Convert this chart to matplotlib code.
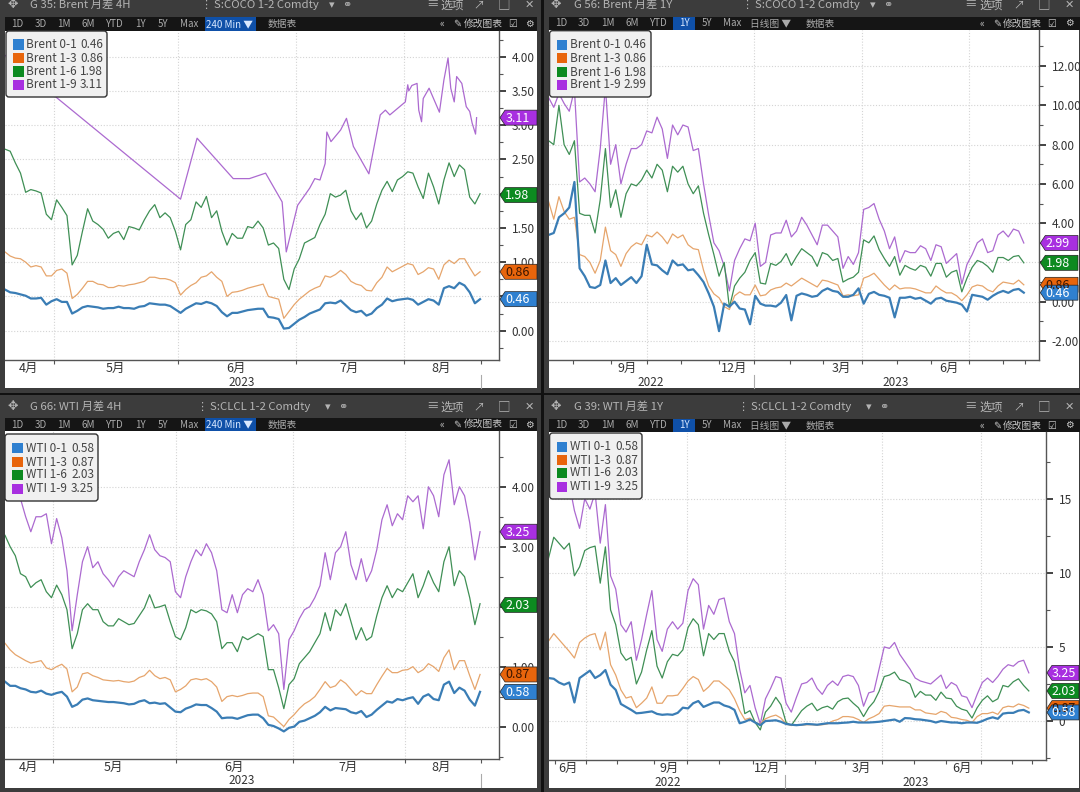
import numpy as np
import matplotlib
matplotlib.use("Agg")
import matplotlib.pyplot as plt
from matplotlib.patches import Rectangle, Polygon, FancyBboxPatch
from matplotlib.ticker import FixedLocator

plt.rcParams['font.family'] = ['Noto Sans CJK SC', 'DejaVu Sans']

# Brent 4H
b4_01 = [.60,.56,.55,.53,.51,.47,.47,.48,.38,.43,.46,.42,.42,.25,.29,.34,.36,.35,.34,.32,.33,.33,.35,.33,.33,.32,.35,.36,.40,.39,.38,.38,.36,.31,.26,.32,.36,.40,.39,.42,.40,.36,.27,.21,.26,.26,.28,.30,.31,.32,.32,.20,.19,.17,.03,.04,.10,.16,.20,.25,.28,.31,.40,.41,.40,.44,.37,.30,.27,.29,.22,.25,.33,.38,.47,.43,.45,.46,.47,.45,.38,.42,.46,.44,.38,.62,.65,.62,.70,.66,.56,.40,.46]
b4_13 = [1.15,1.09,1.06,1.05,1.0,.93,.95,.93,.80,.80,.88,.90,.84,.47,.53,.62,.72,.72,.68,.67,.63,.63,.66,.65,.67,.68,.70,.72,.78,.78,.76,.76,.74,.70,.52,.60,.66,.70,.78,.80,.86,.78,.72,.50,.56,.57,.59,.62,.64,.66,.68,.50,.48,.46,.18,.28,.38,.46,.52,.58,.62,.65,.80,.78,.82,.88,.82,.72,.68,.66,.59,.58,.70,.78,.93,.86,.90,.94,.98,.96,.82,.86,.92,.90,.75,.96,1.03,.98,1.05,1.05,.92,.80,.86]
b4_16 = [2.65,2.62,2.45,2.30,2.02,2.06,2.04,2.01,1.70,1.62,1.91,1.80,1.68,.96,1.10,1.45,1.78,1.60,1.55,1.48,1.35,1.42,1.45,1.33,1.52,1.50,1.47,1.62,1.75,1.84,1.65,1.72,1.65,1.45,1.18,1.55,1.62,1.88,1.80,1.96,1.65,1.75,1.45,1.25,1.42,1.35,1.35,1.52,1.50,1.60,1.50,1.25,1.28,1.20,.75,.60,.90,1.05,1.28,1.32,1.36,1.55,1.70,2.0,1.95,1.98,2.05,1.75,1.62,1.72,1.50,1.60,1.85,2.05,2.18,2.03,2.2,2.25,2.32,2.30,2.1,1.93,2.3,2.1,1.85,2.2,2.45,2.25,2.42,2.35,1.95,1.85,2.0]
b4_19_x = [0,34,37.2,44.2,47.33,50.47,53.67,54.47,56.67,59,60,61,62,62.33,63.13,65,66.13,67.47,70.47,72.67,73.67,74.53,77.53,78,78.2,78.8,79.8,80.13,80.67,81,82.13,84.13,85,85.8,86.33,87,87.47,88.47,89.33,90,90.47,91.13,91.33]
b4_19 = [4.02,1.92,2.81,2.22,2.22,2.3,1.88,1.15,1.83,2.08,2.22,2.2,2.44,2.9,2.76,2.93,3.1,2.69,2.29,3.15,3.22,3.15,3.34,3.59,3.5,3.58,3.61,3.22,3.05,3.39,3.54,3.19,3.66,3.98,3.54,3.34,3.71,3.61,3.27,3.2,3.03,2.87,3.11]

# Brent 1Y
b1_01 = [3.4,3.5,4.3,4.5,4.8,6.1,1.7,1.3,.75,.7,.85,2.1,.95,1.2,.85,1.05,1.25,.95,1.3,2.9,1.9,1.85,1.6,1.4,2.1,1.85,1.9,1.6,1.65,1.35,1.0,.42,-.25,-1.5,-.1,-.25,0,-.35,-.4,-1.15,.3,-.1,-.2,-.2,-.25,-.05,.34,-.95,.3,.42,.35,.25,.3,.55,.68,.55,.5,.25,.25,.35,.68,-.1,.4,.5,.35,.3,.2,-.8,.2,.2,.25,.15,.2,.05,-.1,.15,.2,.05,0,-.05,-.15,-.5,.35,.3,.25,.1,.3,.45,.55,.45,.6,.65,.46]
b1_13 = [5.1,4.2,5.35,4.6,4.2,4.3,2.4,2.3,2.0,1.45,2.1,3.8,2.6,2.4,1.8,2.45,2.8,3.0,2.9,3.4,3.3,3.55,3.3,2.95,3.45,3.25,3.4,2.9,2.7,2.65,1.6,.8,.4,.2,-.25,-.4,.3,.5,.35,.35,.85,.3,.35,.6,.7,.75,.95,.8,1.0,1.2,1.05,.9,.75,1.1,1.05,.95,.85,.3,.35,.3,.35,1.2,1.3,1.45,1.15,.85,.6,.85,.65,.7,.7,.65,.55,.45,.45,.8,.6,.45,.45,.3,.05,.35,.75,.85,.8,.6,.5,.8,1.0,.95,.9,1.1,.86]
b1_16 = [8.2,8.0,10.0,8.0,7.5,8.2,4.5,4.4,4.4,3.5,5.2,7.8,4.8,5.7,4.3,5.5,6.0,5.9,6.2,6.7,6.3,7.0,6.7,5.6,6.9,6.6,6.9,6.0,5.5,5.9,4.5,3.4,2.4,1.3,2.0,-.3,.8,1.2,1.5,2.1,2.5,.95,.9,1.95,1.85,2.05,2.45,1.85,2.3,2.7,2.5,2.3,1.8,2.5,2.4,2.1,2.2,1.0,1.15,1.25,1.5,3.15,3.0,3.35,2.65,2.2,1.8,2.3,1.35,1.85,1.7,1.6,1.85,1.75,1.3,1.95,1.95,1.25,1.5,1.6,.5,1.2,1.75,2.1,2.0,1.8,1.5,2.25,2.25,2.1,2.3,2.35,1.98]
b1_19 = [10.4,9.9,10.6,10.1,9.7,10.8,6.1,6.3,6.0,5.6,7.8,10.95,7.0,8.0,6.0,7.0,7.8,7.8,8.0,8.7,8.6,9.4,8.8,7.3,9.0,8.5,9.0,8.9,7.7,7.8,6.0,4.4,3.0,2.6,1.8,.55,2.1,2.7,3.2,3.1,4.0,1.8,2.0,3.4,3.5,3.5,4.15,3.3,3.6,4.3,3.9,3.4,2.9,3.9,3.9,3.6,3.3,1.7,2.3,1.9,2.5,4.7,4.8,5.0,4.2,3.6,2.7,3.3,2.0,2.6,2.5,2.5,2.85,2.7,2.1,2.9,2.8,1.95,2.2,2.45,.9,1.9,2.4,3.0,3.2,2.5,2.6,3.4,3.6,3.3,3.7,3.6,2.99]

# WTI 4H
w4_01 = [.75,.68,.68,.64,.62,.58,.57,.60,.55,.53,.56,.58,.50,.33,.37,.45,.47,.44,.43,.42,.41,.41,.40,.39,.37,.38,.42,.44,.39,.40,.38,.39,.32,.25,.24,.30,.33,.37,.36,.36,.31,.25,.14,.15,.15,.13,.16,.19,.20,.20,.14,.03,.01,-.03,-.08,-.02,0,.08,.1,.14,.18,.24,.33,.27,.31,.3,.29,.24,.22,.26,.16,.2,.28,.35,.42,.4,.46,.44,.47,.49,.38,.5,.54,.46,.44,.7,.75,.56,.65,.6,.45,.35,.58]
w4_13 = [1.39,1.28,1.2,1.15,1.1,1.06,1.08,1.1,.98,.95,1.0,1.04,.96,.58,.66,.88,.9,.85,.82,.78,.77,.76,.77,.75,.74,.76,.82,.85,.94,.85,.8,.82,.78,.58,.62,.68,.78,.8,.78,.8,.75,.66,.42,.5,.52,.5,.52,.55,.56,.56,.5,.18,.16,.08,0,.12,.2,.3,.38,.43,.5,.62,.75,.65,.68,.78,.72,.62,.52,.6,.55,.55,.7,.84,.97,.9,.9,.94,.95,1.0,.9,.95,1.05,1.0,.92,1.15,1.28,.95,1.1,1.1,.85,.62,.87]
w4_16 = [3.19,3.0,2.85,2.55,2.5,2.32,2.4,2.45,2.25,2.15,2.36,2.2,1.95,1.3,1.55,1.95,2.05,1.95,1.95,1.75,1.68,1.68,1.8,1.75,1.7,1.72,1.85,1.98,2.2,1.98,2.0,2.03,1.75,1.5,1.45,1.65,1.95,1.9,1.95,1.93,1.88,1.75,1.3,1.4,1.4,1.25,1.5,1.45,1.5,1.55,1.5,.95,.95,.65,.3,.7,.8,1.05,1.15,1.25,1.4,1.55,1.9,1.6,1.95,1.85,2.05,1.75,1.45,1.65,1.44,1.5,1.85,2.15,2.35,2.15,2.3,2.25,2.4,2.55,2.15,2.35,2.6,2.4,2.25,2.75,3.0,2.35,2.6,2.5,2.15,1.7,2.05]
w4_19 = [4.6,4.35,4.1,3.8,3.5,3.25,3.5,3.5,3.55,3.05,3.47,3.15,2.6,1.6,2.2,2.75,3.0,2.65,2.75,2.55,2.45,2.33,2.5,2.6,2.55,2.5,2.75,2.95,3.2,2.95,2.85,2.82,2.75,2.25,2.15,2.5,2.75,2.95,2.85,3.05,2.9,2.6,1.95,1.9,2.2,1.9,2.2,2.3,2.25,2.45,2.2,1.6,1.7,1.55,.62,1.45,1.6,1.8,1.95,2.0,2.15,2.35,2.9,2.45,2.9,3.0,3.25,2.7,2.45,2.8,2.42,2.6,2.95,3.45,3.7,3.35,3.55,3.45,3.85,3.75,3.85,3.3,4.0,3.85,3.5,4.2,4.45,3.7,4.0,3.85,3.4,2.78,3.25]

# WTI 1Y
w1_01 = [2.9,2.85,2.6,2.45,2.6,1.25,2.9,3.15,3.4,2.9,3.1,3.44,2.45,2.1,1.15,.95,.75,.52,.55,.6,.65,.48,.42,.45,.42,.55,.9,.85,1.2,1.35,.95,1.1,1.25,1.25,1.05,.95,.75,-.15,-.05,.1,-.1,-.28,0,.02,.05,-.05,-.2,-.25,-.28,-.25,-.2,-.22,-.25,-.2,-.15,-.15,-.15,-.12,-.1,-.05,-.1,-.1,-.1,-.08,-.05,0,.05,.1,-.05,.2,.18,.12,.1,.05,0,-.1,0,-.05,-.1,-.1,-.15,-.1,-.1,-.12,0,.15,.25,.15,.5,.55,.55,.7,.75,.58]
w1_13 = [5.4,5.9,5.5,5.1,4.7,4.25,5.3,5.6,5.8,5.9,4.8,6.0,3.8,3.1,2.1,1.55,1.65,.9,1.2,1.55,2.3,1.2,1.2,1.7,1.7,1.75,2.2,2.7,3.0,2.8,2.0,2.3,2.7,2.7,2.4,2.1,1.5,.7,.1,.2,-.1,-.2,.15,.3,.4,.2,-.2,-.3,-.25,-.28,-.25,-.25,-.28,-.25,-.2,0,.1,.3,.3,.25,.1,-.1,.15,.3,.5,1.0,1.05,1.0,.95,.95,.95,.75,.75,.55,.5,.45,.65,.55,.25,.2,.1,.05,-.1,.3,.5,.5,.6,.45,.9,1.0,.95,1.15,1.05,.87]
w1_16 = [11.0,12.4,12.0,11.6,12.0,9.8,10.4,11.5,11.7,11.8,9.3,11.75,7.5,6.5,4.6,4.1,4.3,2.5,3.3,4.8,6.1,3.7,2.9,4.0,4.5,4.4,4.8,6.3,6.9,6.5,4.4,5.9,5.5,5.9,5.9,4.7,4.0,2.5,.5,.7,-.1,-.6,.6,1.0,1.6,1.1,-.1,-.3,.2,.7,1.0,1.2,.7,.9,1.0,.8,1.3,1.5,1.55,1.2,.9,.3,.9,1.3,2.0,3.0,3.1,3.3,2.8,2.7,2.5,1.6,2.0,1.75,1.75,1.4,1.95,1.55,1.5,1.0,.8,.7,.2,.9,1.4,1.7,1.3,1.5,2.4,2.3,2.65,2.85,2.4,2.03]
w1_19 = [15.9,17.0,17.2,16.6,16.0,14.2,13.0,15.0,14.3,15.4,12.0,14.6,9.8,8.9,6.5,6.0,6.7,4.1,5.5,7.2,8.8,5.5,4.7,6.2,6.7,6.2,6.6,8.8,9.6,9.2,6.2,7.8,7.2,8.2,8.3,6.7,5.9,3.5,1.9,2.4,.9,-.2,1.5,2.2,3.0,2.9,1.2,.6,1.6,2.5,2.6,2.9,2.2,1.8,2.4,2.7,2.4,3.0,3.1,3.0,2.4,1.0,1.9,2.0,3.5,5.0,4.9,5.3,4.5,4.0,3.5,2.9,2.7,2.6,2.5,2.8,3.1,2.2,2.6,2.4,1.7,1.6,.9,1.8,2.6,2.9,2.6,3.0,3.5,3.8,3.7,4.0,4.1,3.25]

spread_names = ["0-1", "1-3", "1-6", "1-9"]
brent_4h_last = [0.46, 0.86, 1.98, 3.11]
brent_1y_last = [0.46, 0.86, 1.98, 2.99]
wti_last = [0.58, 0.87, 2.03, 3.25]

b4_ticks = [9.53, 33.5, 56.3, 77.3, 92.1]
b4_months = ["4月", "5月", "6月", "7月", "8月"]
b4_month_x = [4.47, 21.3, 44.7, 66.7, 84.5]
b1_ticks = [4.8, 12, 19.1, 25.7, 33, 39.7, 46.8, 53.2, 60.7, 67.5, 74.1, 81.3, 88, 92.3]
b1_grid = [19.1, 39.7, 60.7, 81.3]
b1_months = ["9月", "12月", "3月", "6月"]
b1_month_x = [15.3, 36, 56.7, 77.5]
w4_ticks = [9.33, 33.13, 55.8, 77.53, 92.13]
w4_month_x = [4.47, 21, 44.3, 66.5, 84.5]
w1_ticks = [1.2, 7.33, 13.33, 20.33, 26.8, 33, 39.53, 45.8, 51.67, 57.47, 64.53, 70.67, 77, 83.67, 89.67, 93.67]
w1_grid = [7.33, 26.8, 45.8, 64.53, 83.67]
w1_months = ["6月", "9月", "12月", "3月", "6月"]
w1_month_x = [3.8, 23.33, 42.33, 60.67, 80]

COL_LINE = ["#3a7db5", "#e6a56c", "#3f8f55", "#ac6ad0"]
COL_TAG = ["#2f80d0", "#e8650c", "#0c8a20", "#a82fe0"]
LW = [1.6, 0.9, 0.9, 0.9]
CHROME = "#3c3c3c"
TEXT_GREY = "#b4b4b4"

W, H = 1080, 792
fig = plt.figure(figsize=(W / 100, H / 100), dpi=100, facecolor=CHROME)

bg = fig.add_axes([0, 0, 1, 1], zorder=0)
bg.set_xlim(0, W)
bg.set_ylim(H, 0)
bg.axis("off")
top = fig.add_axes([0, 0, 1, 1], zorder=10)
top.set_xlim(0, W)
top.set_ylim(H, 0)
top.axis("off")
top.patch.set_alpha(0)

# black seams between the four windows
bg.add_patch(Rectangle((541, 0), 3, H, color="#111111", lw=0))
bg.add_patch(Rectangle((0, 393), W, 1.5, color="#111111", lw=0))


def draw_chart(box, frame, xlim, ylim, majors, minors, fmt, ticks, vgrid, months, month_x,
               years, divider, series, last, product, legend_box, legend_rows, tag_right, tag_text_x):
    left, right, ytop, ybot = box
    bg.add_patch(Rectangle((frame[0], frame[2]), frame[1] - frame[0], frame[3] - frame[2], color="white", lw=0))
    ax = fig.add_axes([left / W, 1 - ybot / H, (right - left) / W, (ybot - ytop) / H], zorder=5)
    ax.patch.set_alpha(0)
    ax.set_xlim(*xlim)
    ax.set_ylim(*ylim)
    for s in ["top", "left"]:
        ax.spines[s].set_visible(False)
    for s in ["right", "bottom"]:
        ax.spines[s].set_color("#555555")
        ax.spines[s].set_linewidth(1)
    px_per_unit = (ybot - ytop) / (ylim[1] - ylim[0])
    # a label that sits right behind a price tag is not visible at all
    labels = []
    for m in majors:
        hidden = any(abs(m - v) * px_per_unit < 3 for v in last)
        labels.append("" if hidden else fmt % m)
    ax.yaxis.tick_right()
    ax.set_yticks(majors)
    ax.set_yticklabels(labels, fontsize=8.5, color="#333333")
    ax.yaxis.set_minor_locator(FixedLocator(minors))
    ax.tick_params(axis="y", which="major", length=5, width=1.2, pad=4, color="#222222")
    ax.tick_params(axis="y", which="minor", length=3, width=.8, color="#555555")
    ax.set_xticks(ticks)
    ax.set_xticklabels([])
    ax.tick_params(axis="x", length=3, width=.8, direction="out", color="#555555")
    for v in majors:
        ax.axhline(v, color="#d4d4d4", lw=.8, ls=(0, (1, 1.6)), zorder=1)
    for v in vgrid:
        ax.axvline(v, color="#d4d4d4", lw=.8, ls=(0, (1, 1.6)), zorder=1)
    for k in [3, 2, 1, 0]:
        xs, ys = series[k]
        ax.plot(xs, ys, color=COL_LINE[k], lw=LW[k], zorder=3 + (3 - k) * .1, solid_joinstyle="round")

    tr = ax.get_xaxis_transform()
    for t, x in zip(months, month_x):
        ax.text(x, -8 / (ybot - ytop), t, transform=tr, fontsize=9, color="#333333", ha="center", va="center", clip_on=False)
    for t, x in years:
        ax.text(x, -22 / (ybot - ytop), t, transform=tr, fontsize=8.5, color="#333333", ha="center", va="center", clip_on=False)
    ax.plot([divider, divider], [-15 / (ybot - ytop), -28 / (ybot - ytop)], transform=tr, color="#aaaaaa", lw=.8, clip_on=False)

    # price tags on the right axis
    for k in [3, 2, 1, 0]:
        yc = ybot - (last[k] - ylim[0]) * px_per_unit
        tip = right + 1
        pts = [(tip, yc), (tip + 5, yc - 7.5), (tag_right, yc - 7.5), (tag_right, yc + 7.5), (tip + 5, yc + 7.5)]
        top.add_patch(Polygon(pts, closed=True, fc=COL_TAG[k], ec="#222222", lw=.5))
        tc = "#ffffff" if k != 1 else "#3a1500"
        top.text(tag_text_x, yc + .5, "%.2f" % last[k], fontsize=9, color=tc, ha="center", va="center")

    # legend box
    lx0, lx1, ly0, ly1 = legend_box
    top.add_patch(FancyBboxPatch((lx0 + 2, ly0 + 2), lx1 - lx0 - 4, ly1 - ly0 - 4, boxstyle="round,pad=2,rounding_size=3",
                                 fc="#f0f0f0", ec="#333333", lw=1))
    val_x = lx0 + (74 if product == "Brent" else 66)
    for k, y in enumerate(legend_rows):
        top.add_patch(Rectangle((lx0 + 7, y - 5.5), 10.5, 10.5, fc=COL_TAG[k], ec="none"))
        top.text(lx0 + 20.5, y, "%s %s" % (product, spread_names[k]), fontsize=8.5, color="#444444", ha="left", va="center")
        top.text(val_x, y, "%.2f" % last[k], fontsize=8.5, color="#444444", ha="left", va="center")


def draw_bar(x0, x1, y_title, y_bar0, y_bar1, x_icon, x_title, title, x_excl, ticker,
             x_menu, bar_labels, button, right_labels):
    bg.add_patch(Rectangle((x0, y_bar0), x1 - x0, y_bar1 - y_bar0, color="#151515", lw=0))
    bg.add_patch(Rectangle((button[0], y_bar0), button[1] - button[0], y_bar1 - y_bar0, color="#0f50a8", lw=0))
    bg.text(x_icon, y_title, "✥", fontsize=9, color=TEXT_GREY, ha="center", va="center")
    bg.text(x_title, y_title, title, fontsize=8.2, color=TEXT_GREY, ha="left", va="center")
    bg.text(x_excl, y_title, "⋮", fontsize=8, color=TEXT_GREY, ha="center", va="center")
    bg.text(x_excl + 8, y_title, ticker, fontsize=8.2, color=TEXT_GREY, ha="left", va="center")
    bg.text(x_excl + 126, y_title, "▾", fontsize=8, color=TEXT_GREY, ha="center", va="center")
    bg.text(x_excl + 141, y_title, "⚭", fontsize=8, color=TEXT_GREY, ha="center", va="center")
    for dx, t, fs in x_menu:
        bg.text(dx, y_title, t, fontsize=fs, color=TEXT_GREY, ha="center", va="center")
    yb = (y_bar0 + y_bar1) / 2
    for x, t, col in bar_labels:
        bg.text(x, yb, t, fontsize=7, color=col, ha="center", va="center")
    for x, t in right_labels:
        bg.text(x, yb, t, fontsize=7, color="#c8c8c8", ha="center", va="center")


def tool_labels(xs, names, sel):
    return [(x, n, "#d8e8ff" if n == sel or n.startswith("240") else "#aaaaaa") for x, n in zip(xs, names)]


names_4h = ["1D", "3D", "1M", "6M", "YTD", "1Y", "5Y", "Max", "240 Min ▼", "数据表"]
names_1y = ["1D", "3D", "1M", "6M", "YTD", "1Y", "5Y", "Max", "日线图 ▼", "数据表"]
x_4h = [17, 41, 64, 88, 114, 140, 163, 189, 230, 282]
x_1y = [561, 584, 608, 632, 658, 684, 707, 732, 771, 820]
menu_l = [(432, "≡", 9), (452, "选项", 8.5), (479, "↗", 8), (504, "□", 9), (529, "✕", 8)]
menu_r = [(971, "≡", 9), (991, "选项", 8.5), (1019, "↗", 8), (1044, "□", 9), (1069, "✕", 8)]
right_l = [(442, "«"), (457, "✎"), (483, "修改图表"), (513, "☑"), (529, "⚙")]
right_r = [(982, "«"), (997, "✎"), (1022, "修改图表"), (1052, "☑"), (1069, "⚙")]

draw_bar(5, 537, 5, 17, 31, 13, 30, "G 35: Brent 月差 4H", 206, "S:COCO 1-2 Comdty", menu_l,
         tool_labels(x_4h, names_4h, ""), (205, 256), right_l)
draw_bar(549, 1080, 5, 17, 30, 556, 574, "G 56: Brent 月差 1Y", 747, "S:COCO 1-2 Comdty", menu_r,
         tool_labels(x_1y, names_1y, "1Y"), (673, 695), right_r)
draw_bar(5, 537, 407, 418, 431, 13, 30, "G 66: WTI 月差 4H", 202, "S:CLCL 1-2 Comdty", menu_l,
         tool_labels(x_4h, names_4h, ""), (205, 256), right_l)
draw_bar(549, 1080, 407, 419, 432, 556, 574, "G 39: WTI 月差 1Y", 743, "S:CLCL 1-2 Comdty", menu_r,
         tool_labels(x_1y, names_1y, "1Y"), (673, 695), right_r)


def grid_xy(vals):
    return np.arange(len(vals)), vals


draw_chart((5, 499, 31, 360), (5, 537, 31, 388), (0, 95.67), (-.428, 4.375),
           [0, .5, 1, 1.5, 2, 2.5, 3, 3.5, 4], [-.25, .25, .75, 1.25, 1.75, 2.25, 2.75, 3.25, 3.75, 4.25], "%.2f",
           b4_ticks, b4_ticks[:-1], b4_months, b4_month_x, [("2023", 45.9)], 92.1,
           [grid_xy(b4_01), grid_xy(b4_13), grid_xy(b4_16), (b4_19_x, b4_19)], brent_4h_last, "Brent",
           (6, 107, 31, 97), [44.7, 58.3, 71.7, 85], 537, 517.5)

draw_chart((548.6, 1039.3, 30, 360), (548.6, 1079, 30, 388), (0, 95), (-2.97, 13.84),
           list(range(-2, 13, 2)), list(range(-1, 14, 2)), "%.2f",
           b1_ticks, b1_grid, b1_months, b1_month_x, [("2022", 19.7), ("2023", 67.2)], 39.7,
           [grid_xy(b1_01), grid_xy(b1_13), grid_xy(b1_16), grid_xy(b1_19)], brent_1y_last, "Brent",
           (549.6, 651, 30.7, 97), [45, 58, 72, 85], 1078, 1058)

draw_chart((5, 499, 431, 759), (5, 537, 431, 788), (0, 95.67), (-.54, 4.93),
           [0, 1, 2, 3, 4], [-.5, .5, 1.5, 2.5, 3.5, 4.5], "%.2f",
           w4_ticks, w4_ticks[:-1], b4_months, w4_month_x, [("2023", 45.9)], 92.13,
           [grid_xy(w4_01), grid_xy(w4_13), grid_xy(w4_16), grid_xy(w4_19)], wti_last, "WTI",
           (5, 98, 434, 501), [448, 462, 475, 489], 537, 517.5)

draw_chart((548.6, 1046, 432, 760), (548.6, 1079, 432, 788), (0, 96.33), (-2.63, 19.5),
           [0, 5, 10, 15], [-2.5, 2.5, 7.5, 12.5, 17.5], "%d",
           w1_ticks, w1_grid, w1_months, w1_month_x, [("2022", 23), ("2023", 71)], 45.8,
           [grid_xy(w1_01), grid_xy(w1_13), grid_xy(w1_16), grid_xy(w1_19)], wti_last, "WTI",
           (549.6, 642, 433, 499), [447, 460, 473, 487], 1079, 1064)

fig.savefig("out.png", dpi=100, facecolor=fig.get_facecolor())
